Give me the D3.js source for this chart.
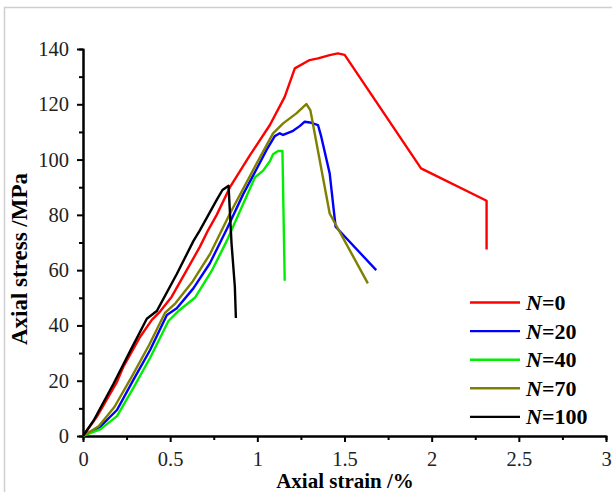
<!DOCTYPE html>
<html>
<head>
<meta charset="utf-8">
<script src="https://cdn.jsdelivr.net/npm/d3@7"></script>
<style>
  body { margin: 0; background: #fff; }
  svg { display: block; font-family: "Liberation Serif", "Times New Roman", serif; }
  .axis path, .axis line { stroke: #000; stroke-width: 2; }
  .axis text { font-family: "Liberation Serif", "Times New Roman", serif; font-size: 20.5px; fill: #222; }
</style>
</head>
<body>
<div id="chart"></div>
<script>
// series: axial strain (%) / axial stress (MPa)
const strainN0 = [0, 0.08, 0.195, 0.232, 0.328, 0.395, 0.442, 0.509, 0.595, 0.671, 0.718, 0.767, 0.843, 0.957, 1.072, 1.157, 1.215, 1.300, 1.348, 1.415, 1.462, 1.501, 1.939, 2.315, 2.315];
const stressN0 = [0, 7, 19.6, 25.1, 35.9, 42, 45, 50.4, 60, 68.5, 74.5, 80, 90, 101.5, 112.5, 122.7, 133, 136, 136.6, 137.8, 138.4, 137.9, 96.8, 85.1, 67.5];

const strainN20 = [0, 0.099, 0.195, 0.289, 0.385, 0.481, 0.538, 0.633, 0.728, 0.83, 0.919, 0.995, 1.053, 1.100, 1.129, 1.148, 1.205, 1.243, 1.272, 1.310, 1.348, 1.367, 1.415, 1.449, 1.682];
const stressN20 = [0, 3.4, 9.4, 20.3, 31.1, 43.8, 46.2, 53.4, 62.5, 75.5, 87.5, 96.5, 103.5, 108.5, 109.5, 108.9, 110.4, 112.1, 113.7, 113.3, 112.5, 108.2, 95, 75.7, 60];

const strainN40 = [0, 0.099, 0.195, 0.289, 0.385, 0.490, 0.547, 0.642, 0.738, 0.824, 0.919, 0.986, 1.033, 1.072, 1.090, 1.119, 1.144, 1.157];
const stressN40 = [0, 2.4, 7.2, 17.4, 28.3, 41.6, 45.2, 50, 59.7, 70.5, 84, 93.5, 96, 99.4, 101.9, 103.1, 103.1, 56.2];

const strainN70 = [0, 0.09, 0.18, 0.28, 0.38, 0.47, 0.53, 0.63, 0.73, 0.843, 0.995, 1.090, 1.148, 1.224, 1.281, 1.304, 1.415, 1.634];
const stressN70 = [0, 3.5, 10.5, 21.5, 33, 44.5, 48, 56, 66, 80.5, 98.5, 109.5, 113.1, 116.7, 120.1, 117.9, 80.5, 55.2];

const strainN100 = [0, 0.061, 0.175, 0.271, 0.366, 0.423, 0.538, 0.633, 0.671, 0.767, 0.80, 0.835, 0.852, 0.871, 0.877];
const stressN100 = [0, 5.6, 18.9, 30.8, 42.4, 45.2, 58.6, 70.5, 74.5, 85.4, 89, 90.5, 69.7, 54, 42.7];

const seriesNames = ['0', '20', '40', '70', '100'];
const seriesColors = ['#ff0000', '#0000ff', '#00ee00', '#808000', '#000000'];
const xTicks = [0, 0.5, 1, 1.5, 2, 2.5, 3];
const yTicks = [0, 20, 40, 60, 80, 100, 120, 140];

const series = [
  {name: seriesNames[0], color: seriesColors[0], x: strainN0, y: stressN0},
  {name: seriesNames[1], color: seriesColors[1], x: strainN20, y: stressN20},
  {name: seriesNames[2], color: seriesColors[2], x: strainN40, y: stressN40},
  {name: seriesNames[3], color: seriesColors[3], x: strainN70, y: stressN70},
  {name: seriesNames[4], color: seriesColors[4], x: strainN100, y: stressN100}
];

const width = 612, height = 492;
const svg = d3.select('#chart').append('svg').attr('width', width).attr('height', height);

// light frame round the figure
svg.append('path').attr('d', 'M4.5,492 V7.5 H612')
  .attr('fill', 'none').attr('stroke', '#cfcfcf').attr('stroke-width', 1.5);

const x = d3.scaleLinear().domain([0, 3]).range([83, 606]);
const y = d3.scaleLinear().domain([0, 140]).range([436, 49]);

// minor ticks first, majors drawn over them
svg.append('g').attr('class', 'axis').attr('transform', 'translate(0,436)')
  .call(d3.axisBottom(x).tickValues(d3.range(0.25, 3, 0.5)).tickSize(4).tickFormat(''));
svg.append('g').attr('class', 'axis').attr('transform', 'translate(83,0)')
  .call(d3.axisLeft(y).tickValues(d3.range(10, 140, 20)).tickSize(4).tickFormat(''));

svg.append('g').attr('class', 'axis').attr('transform', 'translate(0,436)')
  .call(d3.axisBottom(x).tickValues(xTicks).tickSize(6).tickSizeOuter(0).tickPadding(9).tickFormat(d3.format('')));
svg.append('g').attr('class', 'axis').attr('transform', 'translate(83,0)')
  .call(d3.axisLeft(y).tickValues(yTicks).tickSize(6).tickSizeOuter(0).tickPadding(8));

const line = d3.line().x(d => x(d[0])).y(d => y(d[1]));
svg.append('g').selectAll('path').data(series).enter().append('path')
  .attr('d', s => line(s.x.map((v, i) => [v, s.y[i]])))
  .attr('fill', 'none')
  .attr('stroke', s => s.color)
  .attr('stroke-width', 2.4)
  .attr('stroke-linejoin', 'round');

// axis titles
svg.append('text').attr('x', 345).attr('y', 487.5).attr('text-anchor', 'middle')
  .style('font-size', '21px').style('font-weight', 'bold').text('Axial strain /%');
svg.append('text').attr('transform', 'translate(27,259) rotate(-90)').attr('text-anchor', 'middle')
  .style('font-size', '23px').style('font-weight', 'bold').text('Axial stress /MPa');

// legend
const legend = svg.append('g').selectAll('g').data(series).enter().append('g')
  .attr('transform', (d, i) => 'translate(470,' + (302.5 + i * 28.6) + ')');
legend.append('line').attr('x1', 0).attr('x2', 50).attr('y1', 0).attr('y2', 0)
  .attr('stroke', d => d.color).attr('stroke-width', 2.4);
const lt = legend.append('text').attr('x', 56).attr('y', 7.5)
  .style('font-size', '22px').style('font-weight', 'bold');
lt.append('tspan').style('font-style', 'italic').text('N');
lt.append('tspan').text(d => '=' + d.name);
</script>
</body>
</html>
